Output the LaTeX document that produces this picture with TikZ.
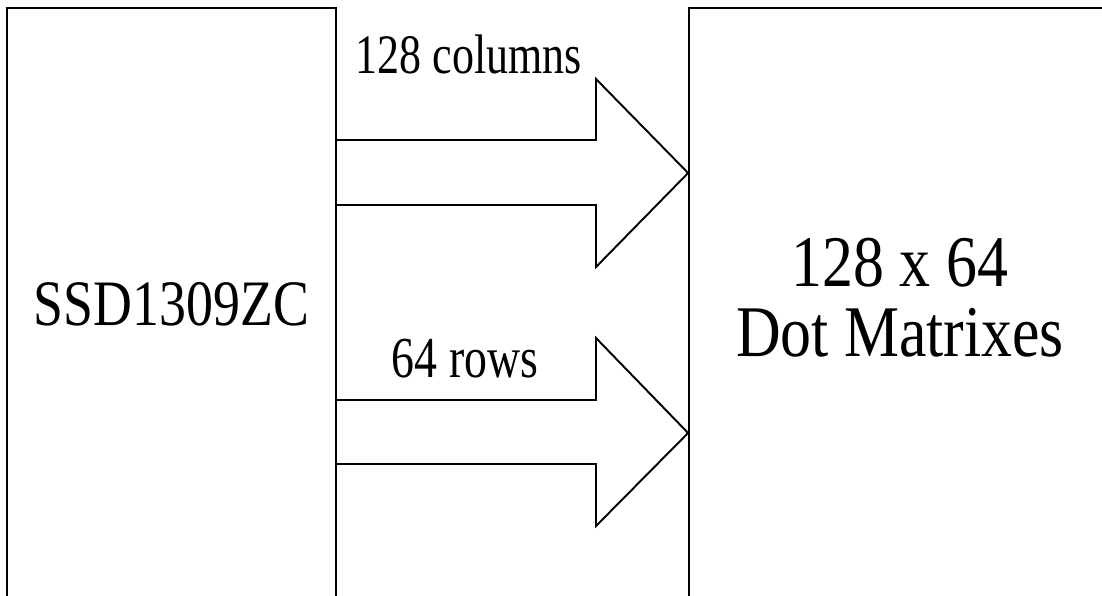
\documentclass[tikz,border=0pt]{standalone}
\usepackage{fontspec}
\setmainfont{Liberation Serif}
\newfontfamily\boxfont[FakeStretch=0.83]{Liberation Serif}
\newfontfamily\panelfont[FakeStretch=0.85]{Liberation Serif}
\newfontfamily\busfont[FakeStretch=0.79]{Liberation Serif}
\usepackage{tikz}
\usetikzlibrary{calc}

\tikzset{
  chipbox/.style={draw, line width=1.1pt, minimum width=6.58cm, minimum height=11.84cm, inner sep=0pt},
  panelbox/.style={draw, line width=1.1pt, minimum width=8.32cm, minimum height=11.84cm, inner sep=0pt},
  busarrow/.style={draw, line width=1.1pt, line join=miter},
  buslabel/.style={anchor=base, inner sep=0pt}
}

\begin{document}
\begin{tikzpicture}[x=0.02cm, y=-0.02cm]
        \useasboundingbox (0,0) rectangle (1102,595);
        \clip (0,0) rectangle (1102,595);

        % Drawing controller box
        \node [chipbox, font={\boxfont\fontsize{36.9}{40}\selectfont}] (ssd) at (171.5,304) {SSD1309ZC};

        % Drawing dot matrix box
        \node [panelbox] (matrix) at (897,304) {};
        \node [align=center, inner sep=0pt, font={\panelfont\fontsize{41.4}{39.7}\selectfont}] (matrixtext) at (900,298) {128 x 64\\Dot Matrixes};

        % Drawing column arrow
        \draw [busarrow] (ssd.east |- 0,140) -- (596,140) -- (596,79) -- (matrix.west |- 0,173) -- (596,267) -- (596,205) -- (ssd.east |- 0,205);
        \node [buslabel, font={\busfont\fontsize{31.7}{34}\selectfont}] (cols) at (469,73) {128 columns};

        % Drawing row arrow
        \draw [busarrow] (ssd.east |- 0,400) -- (596,400) -- (596,338) -- (matrix.west |- 0,433) -- (596,526) -- (596,464) -- (ssd.east |- 0,464);
        \node [buslabel, font={\busfont\fontsize{33}{36}\selectfont}] (rows) at (465,377) {64 rows};
\end{tikzpicture}
\end{document}
